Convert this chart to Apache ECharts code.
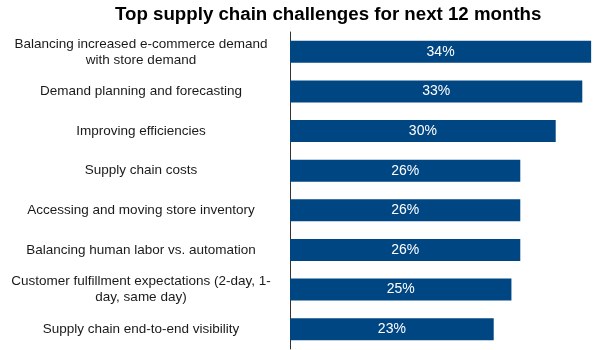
<!DOCTYPE html>
<html>
<head>
<meta charset="utf-8">
<script src="https://cdn.jsdelivr.net/npm/echarts@6/dist/echarts.min.js"></script>
<style>html,body{margin:0;padding:0;background:#fff}#c{width:600px;height:350px}</style>
</head>
<body>
<div id="c"></div>
<script>
var titleText = 'Top supply chain challenges for next 12 months';
var categories = [
  'Balancing increased e-commerce demand\nwith store demand',
  'Demand planning and forecasting',
  'Improving efficiencies',
  'Supply chain costs',
  'Accessing and moving store inventory',
  'Balancing human labor vs. automation',
  'Customer fulfillment expectations (2-day, 1-\nday, same day)',
  'Supply chain end-to-end visibility'
];
var values = [34, 33, 30, 26, 26, 26, 25, 23];

var chart = echarts.init(document.getElementById('c'), null, {renderer: 'canvas'});
var font = 'Liberation Sans, Arial, sans-serif';
chart.setOption({
  animation: false,
  title: {
    text: titleText,
    left: 110,
    top: 0,
    textStyle: {fontFamily: font, fontSize: 18.7, fontWeight: 'bold', color: '#000'}
  },
  grid: {left: 290, right: 0, top: 32, bottom: 1, containLabel: false, outerBoundsMode: 'none'},
  xAxis: {type: 'value', min: 0, max: 35, show: false},
  yAxis: {
    type: 'category',
    inverse: true,
    data: categories,
    axisLine: {show: true, lineStyle: {color: '#333', width: 1}},
    axisTick: {show: false},
    axisLabel: {
      align: 'right',
      margin: 14,
      formatter: function (v) {
        return v.split('\n').map(function (l) { return '{n|' + l + '}'; }).join('\n');
      },
      rich: {
        n: {width: 270, align: 'center', fontFamily: font, fontSize: 13.5, lineHeight: 16, color: '#1a1a1a'}
      }
    }
  },
  series: [{
    type: 'bar',
    data: values,
    barWidth: 22,
    itemStyle: {color: '#004683'},
    label: {
      show: true,
      position: 'inside',
      formatter: '{c}%',
      color: '#fff',
      fontFamily: font,
      fontSize: 14
    }
  }]
});
</script>
</body>
</html>
